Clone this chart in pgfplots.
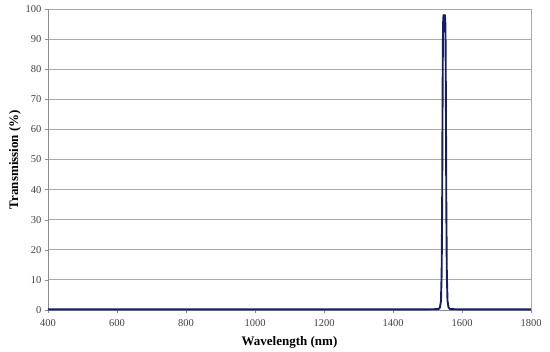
\documentclass[border=0pt]{standalone}
\usepackage{pgfplots}
\pgfplotsset{compat=1.18}
\usepackage{fontspec}
\setmainfont{Liberation Serif}
\definecolor{navy}{RGB}{20,30,100}
\definecolor{gridgray}{RGB}{170,170,170}
\definecolor{axgray}{RGB}{140,140,140}
\begin{document}
\begin{tikzpicture}
\begin{axis}[
  scale only axis,
  width=483pt, height=301pt,
  xmin=400, xmax=1800, ymin=0, ymax=100,
  xtick={400,600,...,1800}, ytick={0,10,...,100},
  ymajorgrids, grid style={gridgray, line width=0.8pt},
  axis line style={axgray, line width=0.8pt},
  axis x line*=bottom, axis y line*=left,
  tick style={axgray}, tick align=outside,
  major tick length=3pt,
  x tick label style={font=\fontsize{10.5}{11}\selectfont, text=black!75, yshift=-3pt},
  y tick label style={font=\fontsize{10.5}{11}\selectfont, text=black!75},
  /pgf/number format/assume math mode=true,
  /pgf/number format/set thousands separator={},
  xlabel={\textbf{Wavelength (nm)}}, ylabel={\textbf{Transmission (\%)}},
  xlabel style={font=\fontsize{13}{14}\selectfont, yshift=-3pt},
  ylabel style={font=\fontsize{13}{14}\selectfont, yshift=-2pt},
  clip=false,
]
\addplot[navy, line width=1.9pt, line join=round] coordinates {
(400,0.2) (1500,0.2) (1532,0.3) (1536,0.8) (1539,3) (1541,12) (1542.5,35) (1543.5,65) (1544.5,88) (1545.5,96) (1546.5,98) (1547.5,97.5) (1548.5,96.8) (1549.5,97.5) (1550.5,98) (1551.5,96) (1552.5,88) (1553.5,65) (1554.5,35) (1556,12) (1558,3) (1561,0.8) (1565,0.3) (1600,0.2) (1800,0.2)
};
\coordinate (ll) at (rel axis cs:0,0);
\coordinate (ur) at (rel axis cs:1,1);
\draw[gridgray, line width=0.8pt] (rel axis cs:1,0) -- (rel axis cs:1,1);
\end{axis}
\pgfresetboundingbox
\path ([shift={(-48pt,-42pt)}]ll) rectangle ([shift={(19pt,9pt)}]ur);
\end{tikzpicture}
\end{document}
